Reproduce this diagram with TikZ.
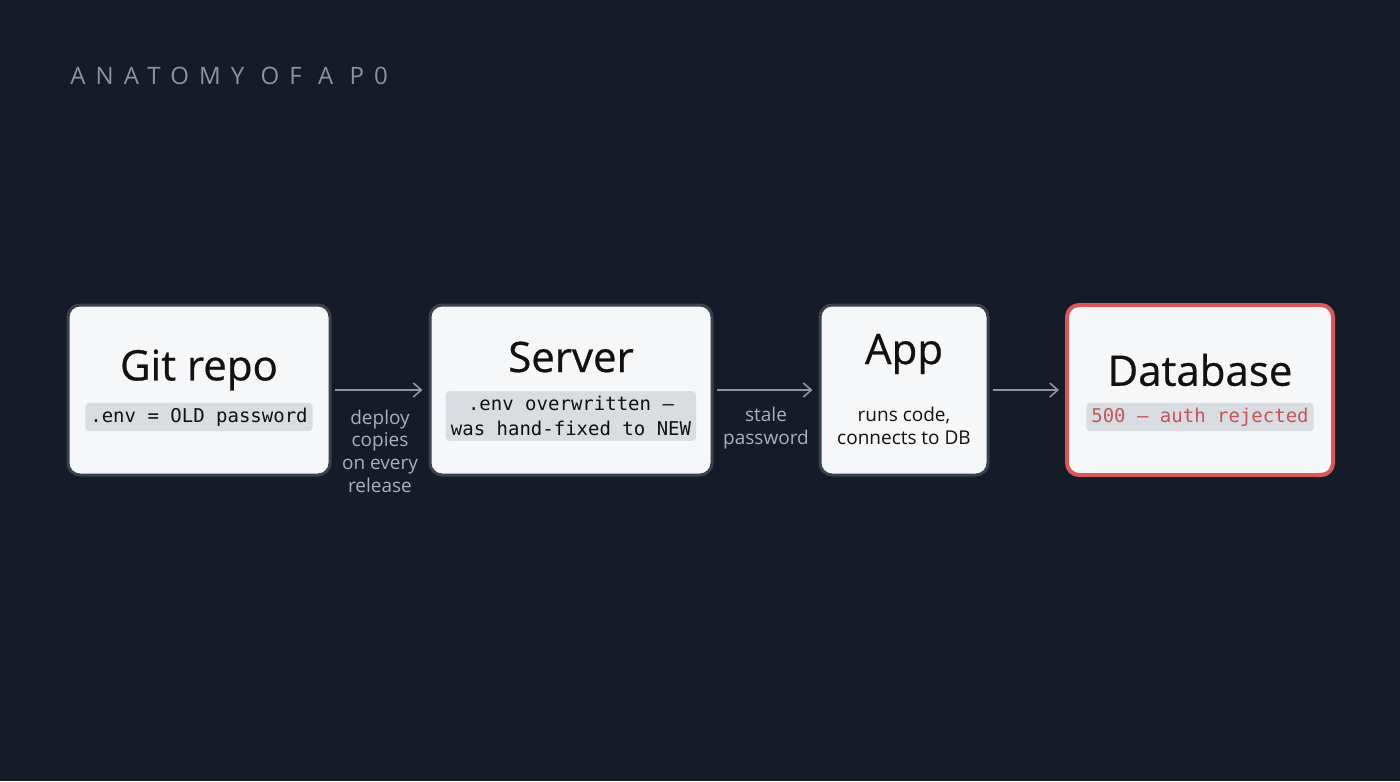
\documentclass[tikz,border=0pt]{standalone}
\usepackage{fontspec}
\setmainfont{Open Sans}
\newfontfamily\monof{DejaVu Sans Mono}
\newfontfamily\spacedf[LetterSpace=42]{Open Sans}
\newfontfamily\headf[FakeBold=0.6]{Open Sans}
\usetikzlibrary{arrows.meta}
\definecolor{bg}{HTML}{161B28}
\definecolor{boxfill}{HTML}{F6F7F9}
\definecolor{boxline}{HTML}{3A404C}
\definecolor{codebg}{HTML}{D9DCE1}
\definecolor{txt}{HTML}{111111}
\definecolor{lbl}{HTML}{A9B0BC}
\definecolor{redl}{HTML}{D9585C}
\definecolor{redt}{HTML}{C4545A}
\definecolor{title}{HTML}{8A93A6}
\definecolor{arr}{HTML}{8E96A4}
\tikzset{
 box/.style={draw=boxline,line width=1.5pt,fill=boxfill,rounded corners=6pt,inner sep=0},
 head/.style={text=txt,font=\headf\fontsize{21}{24}\selectfont,inner sep=0},
 code/.style={fill=codebg,rounded corners=2pt,text=txt,font=\monof\fontsize{9.5}{12.5}\selectfont,align=center,inner sep=2.5pt},
 lab/.style={text=lbl,font=\fontsize{9.5}{11.3}\selectfont,align=center,inner sep=0},
 arrow/.style={draw=arr,line width=0.8pt,-{Straight Barb[length=4pt,width=7pt]}}
}
\begin{document}
\begin{tikzpicture}[x=0.5pt,y=-0.5pt]
\fill[bg] (0,0) rectangle (1400,781);
\useasboundingbox (0,0) rectangle (1400,781);
\node[anchor=west,text=title,font=\spacedf\fontsize{12}{14}\selectfont,inner sep=0] (t) at (70,76) {ANATOMY OF A P0};

\node[box,minimum width=131pt,minimum height=85pt] (git) at (199,390) {};
\node[box,minimum width=141pt,minimum height=85pt] (srv) at (571,390) {};
\node[box,minimum width=84pt,minimum height=85pt] (app) at (904,390) {};
\node[box,draw=redl,line width=2pt,minimum width=133pt,minimum height=85pt] (db) at (1200,390) {};

\node[head] (gith) at (199,370) {Git repo};
\node[code] (gitc) at (199,417) {.env = OLD password};
\node[head] (srvh) at (571,357) {Server};
\node[code] (srvc) at (571,416) {.env overwritten —\\was hand-fixed to NEW};
\node[head] (apph) at (904,354) {App};
\node[lab,text=txt,font=\fontsize{9.5}{11.5}\selectfont] (appt) at (904,426) {runs code,\\connects to DB};
\node[head] (dbh) at (1200,370) {Database};
\node[code,text=redt] (dbc) at (1200,417) {500 — auth rejected};

\draw[arrow] (git.east) ++(3,0) -- ([xshift=-3]srv.west);
\draw[arrow] (srv.east) ++(3,0) -- ([xshift=-3]app.west);
\draw[arrow] (app.east) ++(3,0) -- ([xshift=-3]db.west);
\node[lab] (l1) at (380,451) {deploy\\copies\\on every\\release};
\node[lab] (l2) at (766,428) {stale\\password};
\end{tikzpicture}
\end{document}
